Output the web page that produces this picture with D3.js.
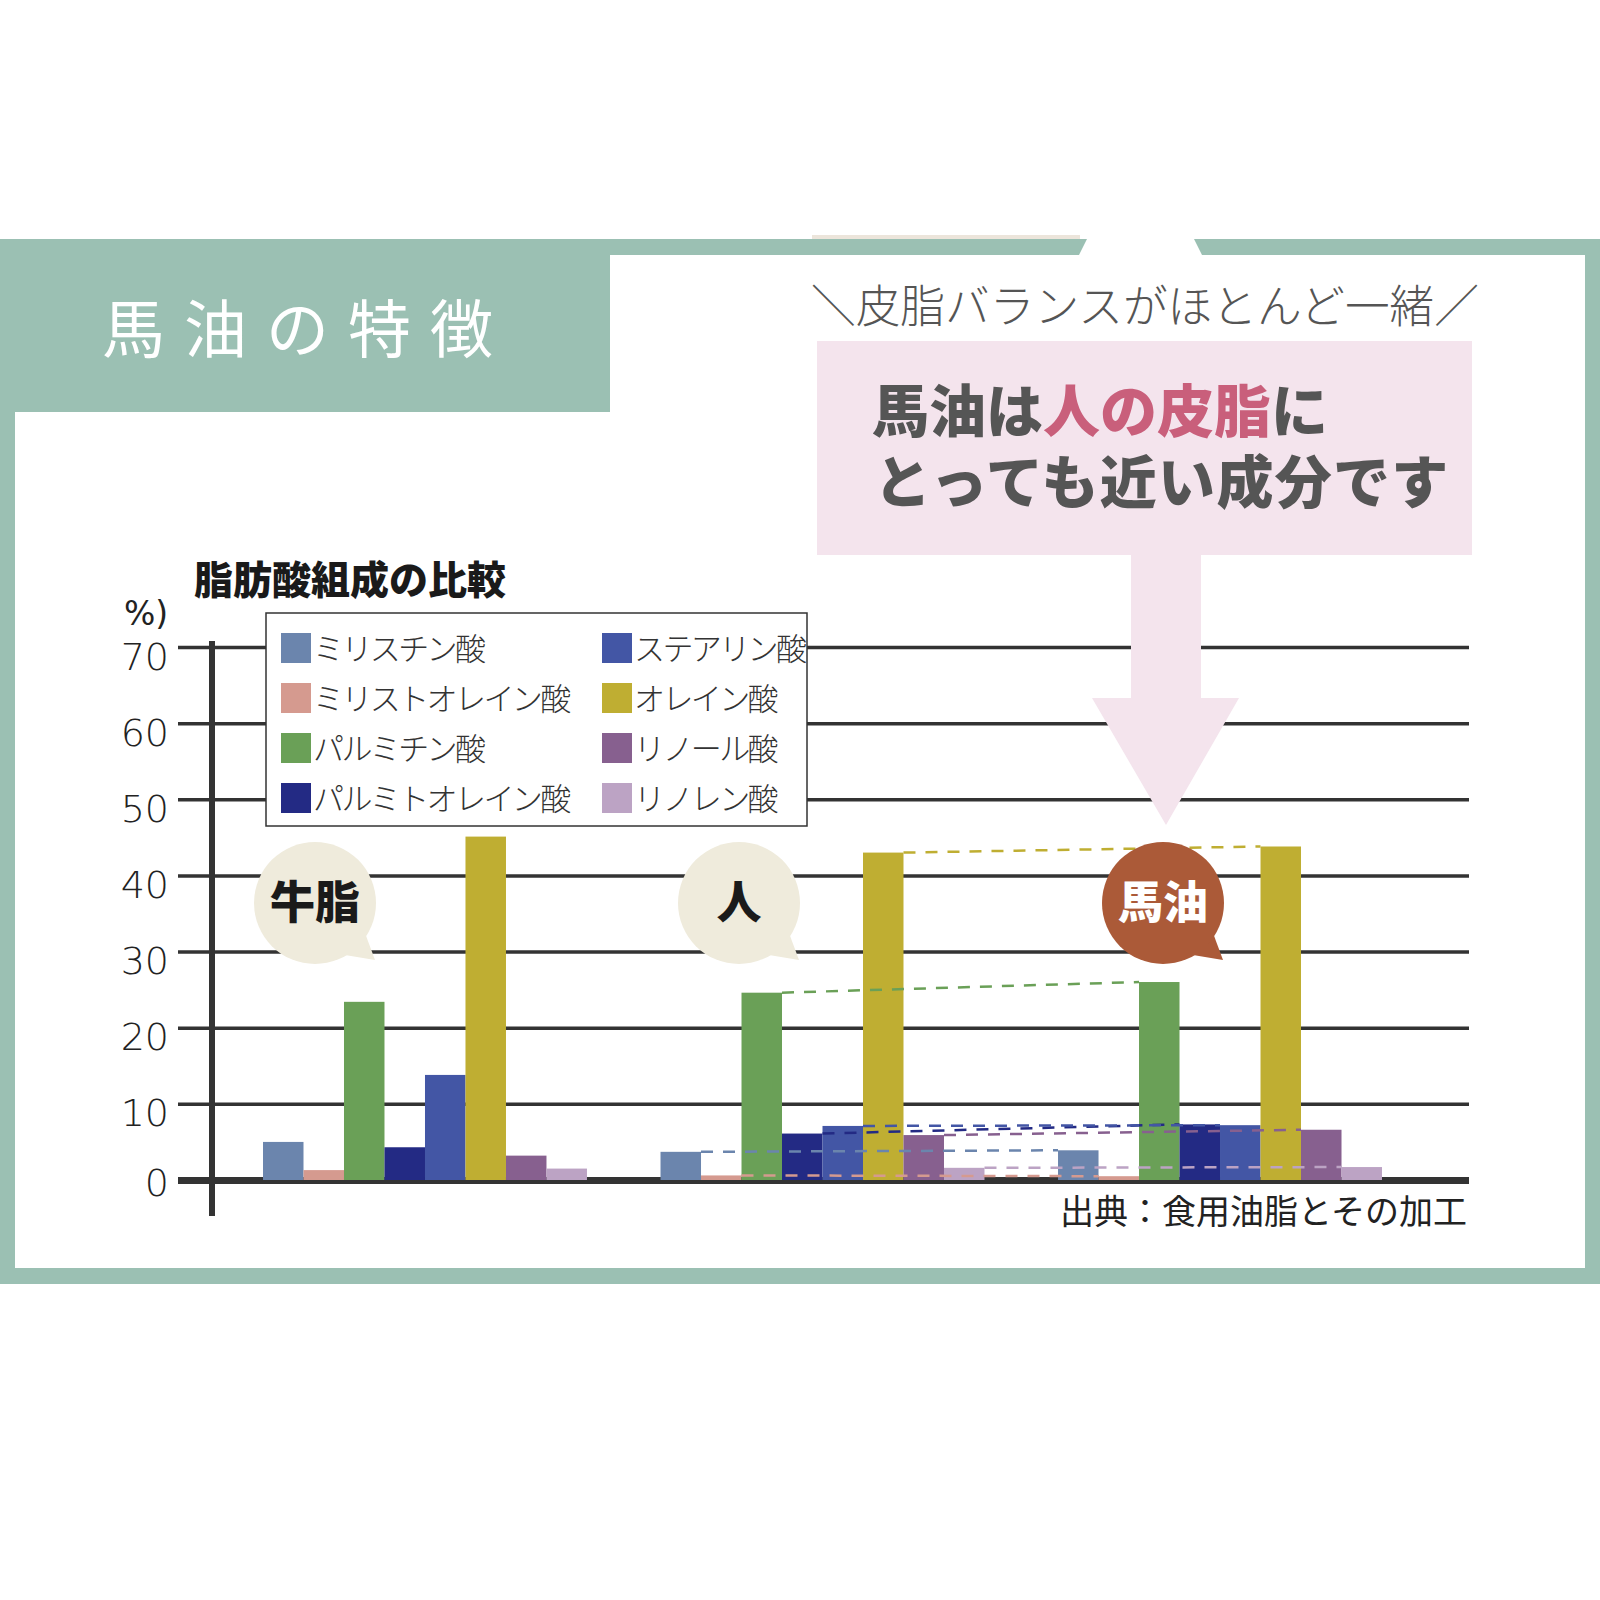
<!DOCTYPE html>
<html>
<head>
<meta charset="utf-8">
<script src="https://cdn.jsdelivr.net/npm/d3@7"></script>
<style>
  body { margin: 0; background: #fff; }
  svg { display: block; }
</style>
</head>
<body>
<svg id="chart"></svg>
<script>
// fatty acids (legend order) and one value list per fat, in %
const acids = ['ミリスチン酸', 'ミリストオレイン酸', 'パルミチン酸', 'パルミトオレイン酸',
               'ステアリン酸', 'オレイン酸', 'リノール酸', 'リノレン酸'];
const groups = ['牛脂', '人', '馬油'];
const beef  = [5.0, 1.3, 23.4, 4.3, 13.8, 45.1, 3.2, 1.5];
const human = [3.7, 0.6, 24.6, 6.1, 7.1, 43.0, 5.9, 1.6];
const horse = [3.9, 0.5, 26.0, 7.3, 7.2, 43.8, 6.6, 1.7];
const yTicks = [0, 10, 20, 30, 40, 50, 60, 70];
const acidColors = ['#6b85ad', '#d59a8f', '#6aa057', '#232a84',
                    '#4356a5', '#bfae32', '#87608f', '#bca3c4'];

const values = { '牛脂': beef, '人': human, '馬油': horse };
const width = 1600, height = 1600;
const jp = '"Noto Sans CJK JP", "Noto Sans", sans-serif';
const teal = '#9bc0b3', pink = '#f4e4ed';

const svg = d3.select('svg#chart')
    .attr('width', width)
    .attr('height', height)
    .attr('viewBox', [0, 0, width, height]);

// ---- frame ----
svg.append('rect').attr('x', 0).attr('y', 239).attr('width', 1600).attr('height', 1045).attr('fill', teal);
svg.append('rect').attr('x', 15).attr('y', 255).attr('width', 1570).attr('height', 1013).attr('fill', '#fff');
svg.append('rect').attr('x', 0).attr('y', 239).attr('width', 610).attr('height', 173).attr('fill', teal);
svg.append('rect').attr('x', 812).attr('y', 235).attr('width', 268).attr('height', 4).attr('fill', '#ece5db');
svg.append('polygon').attr('points', '1087,239 1194,239 1202,255 1079,255').attr('fill', '#fff');

svg.append('text')
    .attr('x', 102).attr('y', 352)
    .attr('font-family', jp).attr('font-size', 63).attr('font-weight', 400)
    .attr('letter-spacing', 19).attr('fill', '#fff')
    .text('馬油の特徴');

svg.append('text')
    .attr('x', 811).attr('y', 323)
    .attr('font-family', jp).attr('font-size', 45).attr('font-weight', 300)
    .attr('textLength', 668).attr('lengthAdjust', 'spacingAndGlyphs')
    .attr('fill', '#555')
    .text('＼皮脂バランスがほとんど一緒／');

svg.append('rect').attr('x', 817).attr('y', 341).attr('width', 655).attr('height', 214).attr('fill', pink);

const head1 = svg.append('text')
    .attr('x', 872).attr('y', 432)
    .attr('font-family', jp).attr('font-size', 57).attr('font-weight', 900).attr('fill', '#555');
head1.append('tspan').text('馬油は');
head1.append('tspan').attr('fill', '#c95f7b').text('人の皮脂');
head1.append('tspan').text('に');
svg.append('text')
    .attr('x', 874).attr('y', 503)
    .attr('font-family', jp).attr('font-size', 57).attr('font-weight', 900)
    .attr('letter-spacing', 1.3).attr('fill', '#555')
    .text('とっても近い成分です');

// ---- chart ----
const x0 = d3.scaleBand().domain(groups).range([263, 1382]).paddingInner(0.185);
const x1 = d3.scaleBand().domain(acids).range([0, x0.bandwidth()]);
const y = d3.scaleLinear().domain([0, 70]).range([1180, 647]);

svg.append('text')
    .attr('x', 194).attr('y', 594)
    .attr('font-family', jp).attr('font-size', 39).attr('font-weight', 900)
    .attr('fill', '#1a1a1a')
    .text('脂肪酸組成の比較');

svg.append('text')
    .attr('x', 124).attr('y', 625)
    .attr('font-family', '"DejaVu Sans", sans-serif').attr('font-size', 33).attr('fill', '#222')
    .text('%)');

const grid = svg.append('g')
    .attr('transform', 'translate(178,0)')
    .call(d3.axisLeft(y).tickValues(yTicks).tickFormat(d3.format('d'))
        .tickSizeInner(-(1469 - 178)).tickSizeOuter(0).tickPadding(9));
grid.select('.domain').remove();
grid.selectAll('.tick line')
    .attr('stroke', '#333')
    .attr('stroke-width', d => d === 0 ? 7 : 3.5);
grid.selectAll('.tick text')
    .attr('font-family', '"DejaVu Sans", sans-serif')
    .attr('font-size', 38).attr('font-weight', 300)
    .attr('fill', '#222').attr('dy', d => d === 0 ? '0.4em' : '0.58em');

// pink arrow lies over the grid lines
svg.append('path')
    .attr('d', 'M1131,555 L1201,555 L1201,698 L1239,698 L1166,825 L1092,698 L1131,698 Z')
    .attr('fill', pink);

svg.append('line')
    .attr('x1', 212).attr('x2', 212).attr('y1', 641).attr('y2', 1216)
    .attr('stroke', '#333').attr('stroke-width', 6);

// legend
const legend = svg.append('g');
legend.append('rect')
    .attr('x', 266).attr('y', 613).attr('width', 541).attr('height', 213)
    .attr('fill', '#fff').attr('stroke', '#333').attr('stroke-width', 1.5);
const item = legend.selectAll('g.item').data(acids).enter().append('g')
    .attr('class', 'item')
    .attr('transform', (d, i) => `translate(${i < 4 ? 281 : 602}, ${633 + (i % 4) * 50})`);
item.append('rect').attr('width', 30).attr('height', 30).attr('fill', (d, i) => acidColors[i]);
item.append('text')
    .attr('x', 32).attr('y', 27)
    .attr('font-family', jp).attr('font-size', 31).attr('font-weight', 300)
    .attr('letter-spacing', -2.6).attr('fill', '#333')
    .text(d => d);

// bars
const groupG = svg.selectAll('g.group').data(groups).enter().append('g')
    .attr('class', 'group')
    .attr('transform', d => `translate(${x0(d)},0)`);
groupG.selectAll('rect')
    .data(g => values[g].map((v, i) => ({ acid: acids[i], v, i })))
    .enter().append('rect')
    .attr('x', d => x1(d.acid))
    .attr('y', d => y(d.v))
    .attr('width', x1.bandwidth())
    .attr('height', d => y(0) - y(d.v))
    .attr('fill', d => acidColors[d.i]);

// dashed links human -> horse
svg.append('g').selectAll('line').data(acids).enter().append('line')
    .attr('x1', d => x0('人') + x1(d) + x1.bandwidth())
    .attr('y1', (d, i) => y(human[i]))
    .attr('x2', d => x0('馬油') + x1(d))
    .attr('y2', (d, i) => y(horse[i]))
    .attr('stroke', (d, i) => acidColors[i])
    .attr('stroke-width', 2.5)
    .attr('stroke-dasharray', '12 10');

// speech bubbles
const bubbles = [
  { label: '牛脂', cx: 315, fill: '#efebdc', color: '#1a1a1a' },
  { label: '人',   cx: 739, fill: '#efebdc', color: '#1a1a1a' },
  { label: '馬油', cx: 1163, fill: '#ab5a38', color: '#fff' }
];
const bub = svg.selectAll('g.bubble').data(bubbles).enter().append('g')
    .attr('class', 'bubble')
    .attr('transform', d => `translate(${d.cx},903)`);
bub.append('polygon').attr('points', '50,30 30,52 60,57').attr('fill', d => d.fill);
bub.append('circle').attr('r', 61).attr('fill', d => d.fill);
bub.append('text')
    .attr('text-anchor', 'middle').attr('y', 16)
    .attr('font-family', jp).attr('font-size', 45).attr('font-weight', 900)
    .attr('fill', d => d.color)
    .text(d => d.label);

svg.append('text')
    .attr('x', 1467).attr('y', 1224).attr('text-anchor', 'end')
    .attr('font-family', jp).attr('font-size', 34).attr('font-weight', 400).attr('fill', '#222')
    .text('出典：食用油脂とその加工');
</script>
</body>
</html>
